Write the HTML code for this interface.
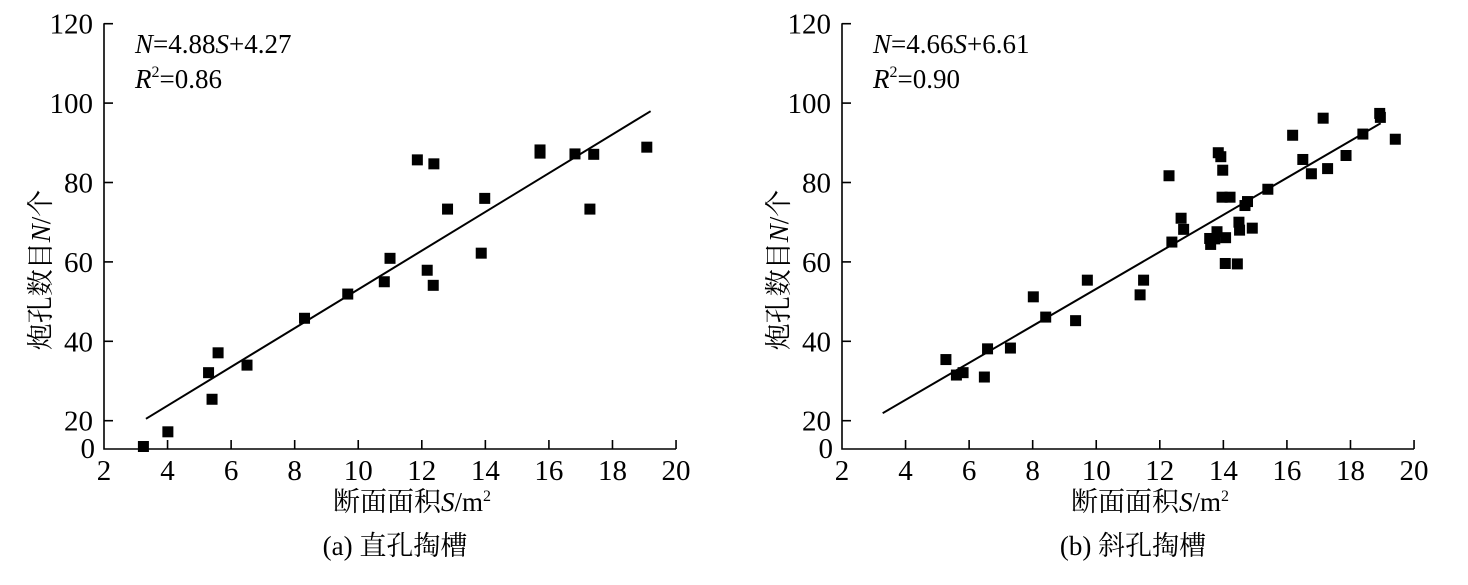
<!DOCTYPE html>
<html><head><meta charset="utf-8">
<style>
html,body{margin:0;padding:0;background:#fff;}
svg{display:block;font-family:"Liberation Serif","Noto Serif CJK SC",serif;}
</style></head>
<body>
<svg id="chart" width="1468" height="585" viewBox="0 0 1468 585" xmlns="http://www.w3.org/2000/svg"></svg>
<script>
// ---- data ----
const xTicks = [2,4,6,8,10,12,14,16,18,20];
const yTicks = [20,40,60,80,100,120];
const aX = [3.24,4.01,5.29,5.59,5.40,6.50,8.31,9.67,10.82,11.0,11.86,12.38,12.81,13.98,13.87,12.17,12.36,15.72,15.72,16.82,17.41,17.29,19.08];
const aY = [13.5,17.2,32.1,37.1,25.4,34.0,45.8,51.9,55.0,60.9,85.7,84.7,73.3,76.0,62.2,57.9,54.1,88.2,87.4,87.2,87.1,73.3,88.9];
const aFit = [4.88,4.27];
const aRange = [3.32,19.2];
const bX = [5.27,5.60,5.81,6.48,6.58,7.30,8.02,8.41,9.35,9.72,11.49,11.38,12.38,12.29,12.67,12.75,13.84,13.92,13.98,13.96,14.21,14.76,14.68,13.57,13.80,13.73,13.60,14.07,14.49,14.51,14.91,14.06,14.44,15.40,16.18,16.50,16.77,17.28,17.14,17.86,18.39,18.92,18.94,19.41];
const bY = [35.4,31.5,32.1,31.0,38.1,38.3,51.2,46.1,45.2,55.4,55.4,51.7,65.0,81.7,71.0,68.2,87.5,86.5,83.1,76.3,76.3,75.2,74.2,65.9,67.6,65.8,64.4,66.1,70.0,68.0,68.5,59.6,59.5,78.3,91.9,85.8,82.2,83.5,96.2,86.8,92.2,97.4,96.4,90.9];
const bFit = [4.66,6.61];
const bRange = [3.28,18.95];

const NS="http://www.w3.org/2000/svg";
const svg=document.getElementById('chart');
function mk(tag,attrs,parent){const e=document.createElementNS(NS,tag);for(const k in attrs)e.setAttribute(k,attrs[k]);(parent||svg).appendChild(e);return e;}

function panel(ox,key,px,py,fit,range,eq,r2,caption){
  const g=mk('g',{});
  
  
  const x0=104+ox, x1=676+ox, yTop=23.3, yBot=449;
  const xs=v=>x0+(v-2)*31.78;
  const ys=v=>420.7-(v-20)*3.97;
  const ax=mk('path',{d:`M${x0} ${yTop}V${yBot}H${x1}`,fill:'none',stroke:'#000','stroke-width':1.6},g);
  
  
  xTicks.forEach(t=>{
    if(t>2){const tk=mk('line',{x1:xs(t),x2:xs(t),y1:yBot,y2:yBot-9,stroke:'#000','stroke-width':1.6},g);
      
      }
    const tl=mk('text',{x:xs(t),y:480,'font-size':29,'text-anchor':'middle'},g);
    tl.textContent=t;
    
    
  });
  yTicks.forEach(t=>{
    const tk=mk('line',{x1:x0,x2:x0+9,y1:ys(t),y2:ys(t),stroke:'#000','stroke-width':1.6},g);
    
    
    const tl=mk('text',{x:x0-11,y:ys(t)+10,'font-size':29,'text-anchor':'end'},g);
    tl.textContent=t;
    
    
  });
  const z=mk('text',{x:x0-9,y:yBot+9,'font-size':29,'text-anchor':'end'},g);
  z.textContent='0';
  
  
  const fl=mk('line',{x1:xs(range[0]),y1:ys(fit[0]*range[0]+fit[1]),x2:xs(range[1]),y2:ys(fit[0]*range[1]+fit[1]),stroke:'#000','stroke-width':2},g);
  
  
  px.forEach((v,i)=>{
    const r=mk('rect',{x:xs(v)-5.5,y:ys(py[i])-5.5,width:11,height:11,fill:'#000'},g);
    
    
  });
  const e=mk('text',{x:x0+31,y:53,'font-size':27},g);
  e.innerHTML=eq;
  
  
  const r=mk('text',{x:x0+31,y:88,'font-size':27},g);
  r.innerHTML=r2;
  
  
  const xt=mk('text',{x:ox+412,y:511,'font-size':27,'text-anchor':'middle'},g);
  xt.innerHTML='断面面积<tspan font-style="italic">S</tspan>/m<tspan font-size="16" dy="-10">2</tspan>';
  
  
  const yt=mk('text',{x:0,y:0,'font-size':27,'text-anchor':'middle',transform:`translate(${ox+50},270) rotate(-90)`},g);
  yt.innerHTML='炮孔数目<tspan font-style="italic">N</tspan>/个';
  
  
  const cp=mk('text',{x:ox+395,y:555,'font-size':27,'text-anchor':'middle'},g);
  cp.textContent=caption;
  
  
}
panel(0,'a',aX,aY,aFit,aRange,'<tspan font-style="italic">N</tspan>=4.88<tspan font-style="italic">S</tspan>+4.27','<tspan font-style="italic">R</tspan><tspan font-size="16" dy="-11">2</tspan><tspan dy="11">=0.86</tspan>','(a) 直孔掏槽');
panel(738,'b',bX,bY,bFit,bRange,'<tspan font-style="italic">N</tspan>=4.66<tspan font-style="italic">S</tspan>+6.61','<tspan font-style="italic">R</tspan><tspan font-size="16" dy="-11">2</tspan><tspan dy="11">=0.90</tspan>','(b) 斜孔掏槽');
</script>
</body></html>
